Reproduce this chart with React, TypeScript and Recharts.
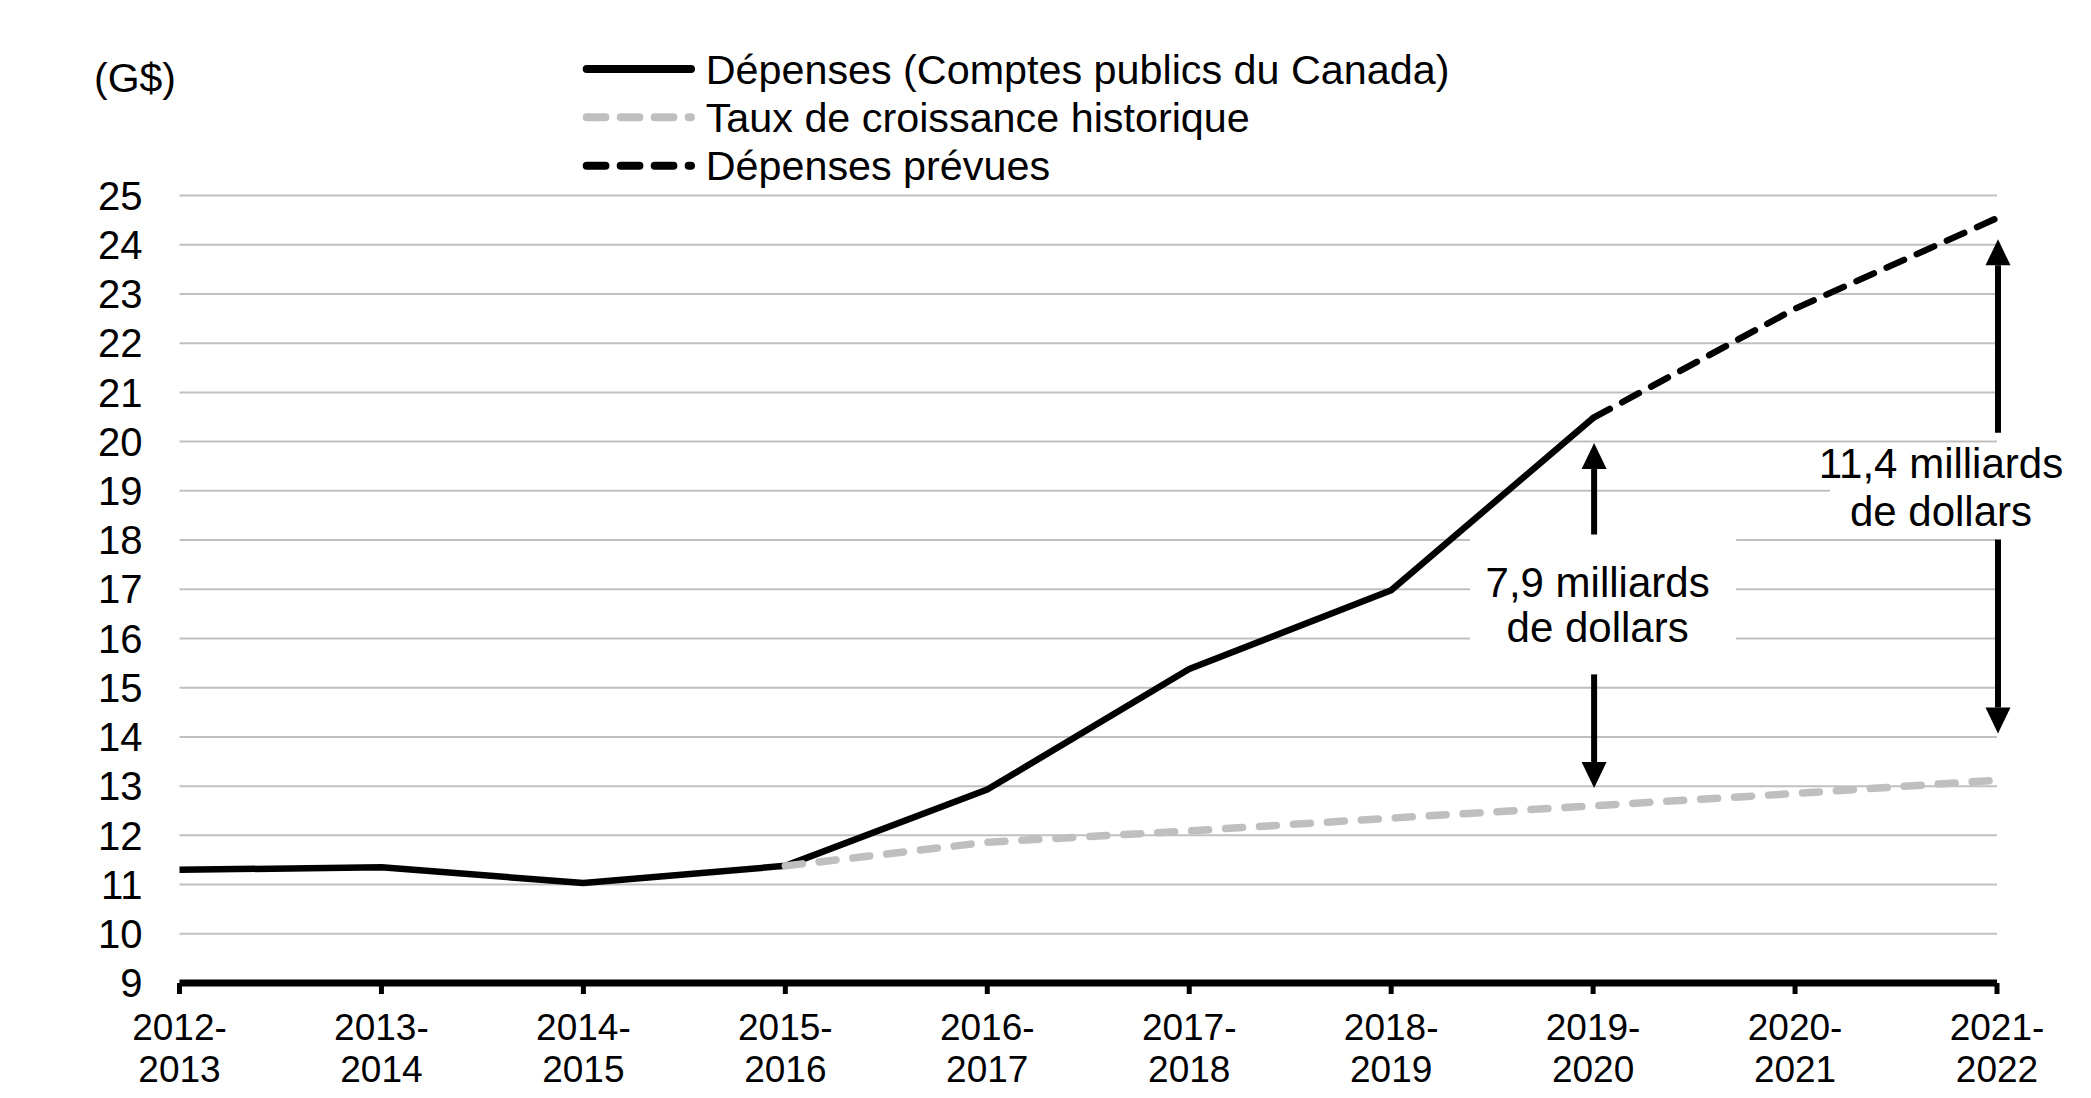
import React from 'react';
import {
  LineChart,
  Line,
  XAxis,
  YAxis,
  CartesianGrid,
  Legend,
  ReferenceLine,
  ReferenceDot
} from 'recharts';

// Fiscal years on the x axis
const categories = [
  '2012-2013', '2013-2014', '2014-2015', '2015-2016', '2016-2017',
  '2017-2018', '2018-2019', '2019-2020', '2020-2021', '2021-2022'
];

// Values in billions of dollars (G$)
const actualSpending = [11.3, 11.35, 11.03, 11.38, 12.93, 15.38, 16.98, 20.48, null, null];
const historicalGrowth = [null, null, null, 11.38, 11.86, 12.09, 12.35, 12.6, 12.85, 13.12];
const plannedSpending = [null, null, null, null, null, null, null, 20.48, 22.7, 24.54];

const yTicks = [9, 10, 11, 12, 13, 14, 15, 16, 17, 18, 19, 20, 21, 22, 23, 24, 25];
const unitLabel = '(G$)';
const legendLabels = [
  'Dépenses (Comptes publics du Canada)',
  'Taux de croissance historique',
  'Dépenses prévues'
];

// Gap annotations
const gapCategories = ['2019-2020', '2021-2022'];
const gapLabelLines = [
  ['7,9 milliards', 'de dollars'],
  ['11,4 milliards', 'de dollars']
];
const gapLabelY = [16.69, 19.07];
const gapArrowsUp = [
  [18.01, 19.97],
  [20.18, 24.11]
];
const gapArrowsDown = [
  [15.27, 12.96],
  [18.01, 14.07]
];

const FONT = "'Liberation Sans', Arial, Helvetica, sans-serif";
const W = 2083;
const H = 1090;

const data = categories.map((year, i) => ({
  year,
  actual: actualSpending[i],
  historical: historicalGrowth[i],
  planned: plannedSpending[i]
}));

// box/text placement around each annotation anchor (pixels)
const labelBoxes = [
  { dx: 4.5, gap: 22.5, left: -123, right: 143, top: -70, bottom: 55 },
  { dx: -56, gap: 24, left: -167, right: 86, top: -30, bottom: 40 }
];

function XTick({ x, y, payload }: any) {
  const [a, b] = String(payload.value).split('-');
  return (
    <text textAnchor="middle" fontSize={37} fontFamily={FONT} fill="#000">
      <tspan x={x} y={y + 45.5}>{a}-</tspan>
      <tspan x={x} y={y + 87.7}>{b}</tspan>
    </text>
  );
}

function arrowShape(props: any) {
  const { x1, y1, x2, y2 } = props;
  const dir = y2 < y1 ? 1 : -1;
  const head = 26;
  const half = 12.5;
  const baseY = y2 + dir * head;
  return (
    <g>
      <line x1={x1 + 1} y1={y1} x2={x2 + 1} y2={baseY} stroke="#000" strokeWidth={6} />
      <polygon points={`${x2 + 1},${y2} ${x2 + 1 - half},${baseY} ${x2 + 1 + half},${baseY}`} fill="#000" />
    </g>
  );
}

function makeLabelShape(i: number) {
  return (props: any) => {
    const { cx, cy } = props;
    const b = labelBoxes[i];
    const [l1, l2] = gapLabelLines[i];
    return (
      <g>
        <rect x={cx + b.left} y={cy + b.top} width={b.right - b.left} height={b.bottom - b.top} fill="#fff" />
        <text textAnchor="middle" fontSize={42} fontFamily={FONT} fill="#000">
          <tspan x={cx + b.dx} y={cy - b.gap + 15}>{l1}</tspan>
          <tspan x={cx + b.dx} y={cy + b.gap + 15}>{l2}</tspan>
        </text>
      </g>
    );
  };
}

const legendStyles = [
  { stroke: '#000', width: 8, dash: undefined },
  { stroke: '#bfbfbf', width: 8, dash: '18.7 15.3' },
  { stroke: '#000', width: 8, dash: '18.7 15.3' }
];

function LegendContent() {
  return (
    <svg width={W} height={187} style={{ display: 'block' }}>
      <text x={127} y={84} textAnchor="middle" fontSize={41} fontFamily={FONT} fill="#000">
        {unitLabel}
      </text>
      {legendLabels.map((label, i) => {
        const cy = 61 + i * 48.35;
        const s = legendStyles[i];
        return (
          <g key={label}>
            <line
              x1={578.7}
              y1={cy}
              x2={683}
              y2={cy}
              stroke={s.stroke}
              strokeWidth={s.width}
              strokeDasharray={s.dash}
              strokeLinecap="round"
            />
            <text x={697.7} y={cy + 14.5} fontSize={41.3} fontFamily={FONT} fill="#000">
              {label}
            </text>
          </g>
        );
      })}
    </svg>
  );
}

export default function App() {
  return (
    <div style={{ width: W, height: H, fontFamily: FONT }}>
      <LineChart
        width={W}
        height={H}
        data={data}
        margin={{ top: 187.5, right: 94, left: 0, bottom: 0 }}
      >
        <CartesianGrid horizontal vertical={false} stroke="#c0c0c0" strokeWidth={2} />
        <XAxis
          dataKey="year"
          height={115}
          interval={0}
          axisLine={{ stroke: '#000', strokeWidth: 7 }}
          tickLine={{ stroke: '#000', strokeWidth: 5 }}
          tickSize={11}
          tickMargin={0}
          tick={<XTick />}
        />
        <YAxis
          width={171.5}
          domain={[9, 25]}
          ticks={yTicks}
          interval={0}
          axisLine={false}
          tickLine={false}
          tickSize={8}
          tickMargin={29}
          tick={{ fill: '#000', fontSize: 40, fontFamily: FONT }}
        />
        <Legend
          verticalAlign="middle"
          align="center"
          content={() => <LegendContent />}
          wrapperStyle={{ top: 0, left: 0, width: W, height: 187 }}
        />
        <Line
          dataKey="actual"
          name={legendLabels[0]}
          type="linear"
          stroke="#000"
          strokeWidth={6.5}
          strokeLinejoin="round"
          dot={false}
          activeDot={false}
          isAnimationActive={false}
        />
        <Line
          dataKey="planned"
          name={legendLabels[2]}
          type="linear"
          stroke="#000"
          strokeWidth={6.5}
          strokeDasharray="19 14"
          strokeLinecap="round"
          dot={false}
          activeDot={false}
          isAnimationActive={false}
        />
        <Line
          dataKey="historical"
          name={legendLabels[1]}
          type="linear"
          stroke="#bfbfbf"
          strokeWidth={7.5}
          strokeDasharray="17 17"
          strokeLinecap="round"
          dot={false}
          activeDot={false}
          isAnimationActive={false}
        />
        {gapCategories.map((cat, i) => (
          <ReferenceDot
            key={`lbl-${cat}`}
            x={cat}
            y={gapLabelY[i]}
            r={0}
            shape={makeLabelShape(i)}
          />
        ))}
        {gapCategories.map((cat, i) => (
          <ReferenceLine
            key={`up-${cat}`}
            segment={[{ x: cat, y: gapArrowsUp[i][0] }, { x: cat, y: gapArrowsUp[i][1] }]}
            shape={arrowShape}
          />
        ))}
        {gapCategories.map((cat, i) => (
          <ReferenceLine
            key={`down-${cat}`}
            segment={[{ x: cat, y: gapArrowsDown[i][0] }, { x: cat, y: gapArrowsDown[i][1] }]}
            shape={arrowShape}
          />
        ))}
      </LineChart>
    </div>
  );
}
